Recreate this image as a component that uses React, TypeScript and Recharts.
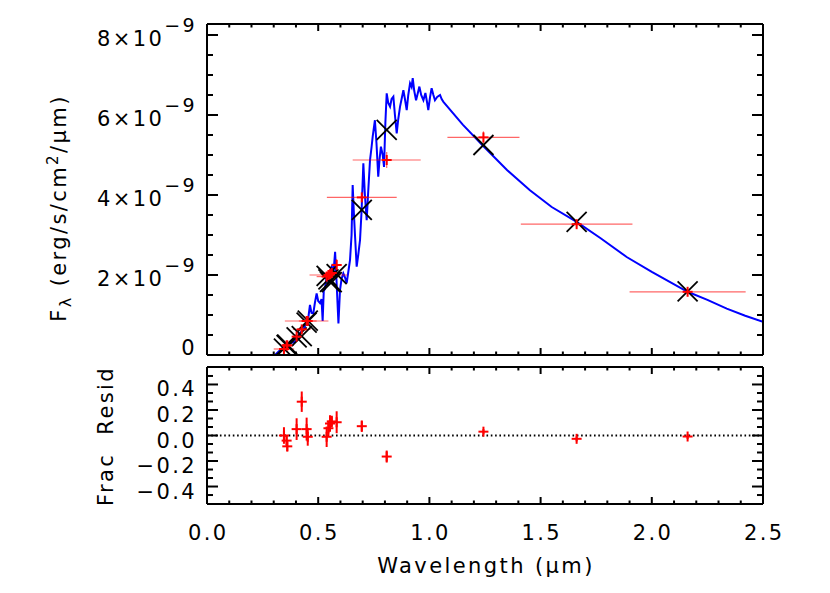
import React from "react";
import { ComposedChart, Line, Scatter, XAxis, YAxis, ErrorBar, ReferenceLine } from "recharts";

// wavelength (um) vs flux (1e-9 erg/s/cm2/um)
const spectrum: [number, number][] = [
  [0.118, 0], [0.2, 0], [0.306, 0], [0.328, 0.12], [0.345, 0.2], [0.358, 0.25], [0.375, 0.3],
  [0.396, 0.33], [0.408, 0.45], [0.418, 0.55], [0.43, 0.62], [0.448, 0.79], [0.456, 0.95],
  [0.463, 1.25], [0.47, 1.05], [0.478, 1.04], [0.485, 1.3], [0.493, 1.54], [0.5, 1.35],
  [0.508, 1.3], [0.515, 1.4], [0.52, 0.85], [0.525, 1.6], [0.53, 1.65], [0.538, 1.96],
  [0.545, 1.85], [0.553, 2.1], [0.561, 2.21], [0.568, 2.0], [0.576, 2.58], [0.582, 1.9],
  [0.591, 0.79], [0.598, 1.62], [0.605, 1.9], [0.613, 2.04], [0.62, 1.95], [0.628, 1.8],
  [0.636, 2.1], [0.643, 2.37], [0.65, 3.0], [0.655, 4.25], [0.66, 3.6], [0.665, 3.04],
  [0.673, 2.21], [0.68, 2.5], [0.688, 2.87], [0.695, 3.6], [0.703, 4.79], [0.71, 4.0],
  [0.718, 3.37], [0.725, 4.1], [0.733, 4.87], [0.74, 5.2], [0.745, 5.46], [0.755, 5.87],
  [0.762, 5.3], [0.77, 4.46], [0.776, 4.9], [0.782, 5.21], [0.79, 5.0], [0.796, 4.7],
  [0.802, 5.8], [0.808, 6.54], [0.815, 6.3], [0.823, 6.21], [0.83, 6.4], [0.838, 6.46],
  [0.845, 6.0], [0.853, 5.54], [0.86, 5.9], [0.868, 6.21], [0.875, 6.4], [0.883, 6.62],
  [0.89, 6.4], [0.898, 6.12], [0.905, 6.5], [0.913, 6.79], [0.92, 6.7], [0.925, 6.92],
  [0.932, 6.6], [0.94, 6.37], [0.948, 6.55], [0.955, 6.71], [0.963, 6.5], [0.973, 6.37],
  [0.982, 6.55], [0.99, 6.3], [0.995, 6.12], [1.003, 6.45], [1.01, 6.67], [1.018, 6.5],
  [1.025, 6.37], [1.035, 6.45], [1.048, 6.5], [1.055, 6.4], [1.063, 6.33],
  [1.15, 5.76], [1.243, 5.22], [1.35, 4.62], [1.452, 4.12], [1.55, 3.7], [1.662, 3.33],
  [1.77, 2.92], [1.887, 2.45], [2.0, 2.08], [2.161, 1.58], [2.25, 1.38], [2.337, 1.16],
  [2.42, 0.98], [2.5, 0.83], [2.5, 0.05],
];

// photometry: wavelength, half band width, flux, flux error, model flux, frac resid, resid error
const bandX = [0.346, 0.358, 0.361, 0.403, 0.426, 0.448, 0.453, 0.538, 0.546, 0.553, 0.561, 0.583, 0.696, 0.808, 1.243, 1.662, 2.161];
const bandW = [0.046, 0.02, 0.03, 0.02, 0.04, 0.098, 0.04, 0.045, 0.085, 0.04, 0.045, 0.022, 0.157, 0.153, 0.162, 0.251, 0.261];
const obsFlux = [0.15, 0.24, 0.24, 0.46, 0.64, 0.85, 0.85, 1.96, 2.0, 2.02, 2.05, 2.25, 3.94, 4.875, 5.44, 3.27, 1.58];
const obsErr = [0.1, 0.08, 0.08, 0.1, 0.1, 0.12, 0.1, 0.12, 0.1, 0.1, 0.08, 0.15, 0.1, 0.2, 0.15, 0.08, 0.05];
const modelFlux = [0.16, 0.25, 0.26, 0.44, 0.47, 0.81, 0.86, 1.98, 1.89, 1.83, 1.82, 2.02, 3.63, 5.63, 5.25, 3.33, 1.59];
const resid = [0.0, -0.04, -0.085, 0.05, 0.265, 0.05, -0.01, -0.01, 0.057, 0.094, 0.11, 0.104, 0.073, -0.165, 0.03, -0.026, -0.008];
const residErr = [0.065, 0.04, 0.04, 0.085, 0.08, 0.09, 0.07, 0.08, 0.06, 0.065, 0.045, 0.086, 0.045, 0.047, 0.02, 0.02, 0.02];

const X_TICKS = [0, 0.1, 0.2, 0.3, 0.4, 0.5, 0.6, 0.7, 0.8, 0.9, 1, 1.1, 1.2, 1.3, 1.4, 1.5, 1.6, 1.7, 1.8, 1.9, 2, 2.1, 2.2, 2.3, 2.4, 2.5];
const X_MAJOR = [0, 0.5, 1, 1.5, 2, 2.5];
const YF_TICKS = [0, 0.5, 1, 1.5, 2, 2.5, 3, 3.5, 4, 4.5, 5, 5.5, 6, 6.5, 7, 7.5, 8];
const YF_MAJOR = [0, 2, 4, 6, 8];
const YR_TICKS = [-0.4667, -0.4, -0.3333, -0.2667, -0.2, -0.1333, -0.0667, 0, 0.0667, 0.1333, 0.2, 0.2667, 0.3333, 0.4, 0.4667];
const YR_MAJOR = [-0.4, -0.2, 0, 0.2, 0.4];

const specData = spectrum.map(([x, y]) => ({ x, y }));
const obsData = bandX.map((x, i) => ({ x, y: obsFlux[i], ex: bandW[i], ey: obsErr[i] }));
const modelData = bandX.map((x, i) => ({ x, y: modelFlux[i] }));
const residData = bandX.map((x, i) => ({ x, y: resid[i], ey: residErr[i] }));

const FONT = "'DejaVu Sans', sans-serif";
const FS = 21;
const LS = 2.4;
const txt = { fontFamily: FONT, fontSize: FS, fill: "#000", letterSpacing: LS };
const near = (v: number, list: number[]) => list.some((m) => Math.abs(m - v) < 1e-6);

const xTick = (dir: number, labels: boolean) => (p: any) => {
  const major = near(p.payload.value, X_MAJOR);
  return (
    <g>
      <line x1={p.x} x2={p.x} y1={p.y} y2={p.y + dir * (major ? 7 : 3.5)} stroke="#000" strokeWidth={2} />
      {labels && major ? (
        <text x={p.x + LS / 2} y={p.y + 36} textAnchor="middle" {...txt}>
          {p.payload.value.toFixed(1)}
        </text>
      ) : null}
    </g>
  );
};

const yTick = (dir: number, majors: number[], label?: (v: number, x: number, y: number) => React.ReactNode) => (p: any) => {
  const major = near(p.payload.value, majors);
  return (
    <g>
      <line x1={p.x} x2={p.x + dir * (major ? 11 : 6)} y1={p.y} y2={p.y} stroke="#000" strokeWidth={2} />
      {label && major ? label(p.payload.value, p.x, p.y) : null}
    </g>
  );
};

const fluxLabel = (v: number, x: number, y: number) =>
  v === 0 ? (
    <text x={x - 10} y={y} textAnchor="end" {...txt}>0</text>
  ) : (
    <text x={x - 10} y={y + 11} textAnchor="end" {...txt}>
      {`${v}×10`}
      <tspan dy={-14} fontSize={19}>−9</tspan>
    </text>
  );

const residLabel = (v: number, x: number, y: number) => (
  <text x={x - 10} y={y + 12} textAnchor="end" {...txt}>
    {(v < 0 ? "−" : "") + Math.abs(v).toFixed(1)}
  </text>
);

const XMark = (p: any) => (
  <g stroke="#000" strokeWidth={1.8}>
    <line x1={p.cx - 10} y1={p.cy - 10} x2={p.cx + 10} y2={p.cy + 10} />
    <line x1={p.cx - 10} y1={p.cy + 10} x2={p.cx + 10} y2={p.cy - 10} />
  </g>
);

const Plus = (p: any) => (
  <g stroke="#ff0000" strokeWidth={2}>
    <line x1={p.cx - 5} y1={p.cy} x2={p.cx + 5} y2={p.cy} />
    <line x1={p.cx} y1={p.cy - 5} x2={p.cx} y2={p.cy + 5} />
  </g>
);

const axisLine = { stroke: "#000", strokeWidth: 2 };

function Frame({ yDomain, yTicks, yMajor, yLabel, xLabels }: any) {
  return (
    <>
      <XAxis xAxisId="b" dataKey="x" type="number" domain={[0, 2.5]} allowDataOverflow ticks={X_TICKS} interval={0}
        height={1} tickSize={0} tickMargin={0} tickLine={false} axisLine={axisLine} tick={xTick(-1, xLabels)} />
      <XAxis xAxisId="t" orientation="top" dataKey="x" type="number" domain={[0, 2.5]} allowDataOverflow ticks={X_TICKS} interval={0}
        height={1} tickSize={0} tickMargin={0} tickLine={false} axisLine={axisLine} tick={xTick(1, false)} />
      <YAxis yAxisId="l" dataKey="y" type="number" domain={yDomain} allowDataOverflow ticks={yTicks} interval={0}
        width={1} tickSize={0} tickMargin={0} tickLine={false} axisLine={axisLine} tick={yTick(1, yMajor, yLabel)} />
      <YAxis yAxisId="r" orientation="right" dataKey="y" type="number" domain={yDomain} allowDataOverflow ticks={yTicks} interval={0}
        width={1} tickSize={0} tickMargin={0} tickLine={false} axisLine={axisLine} tick={yTick(-1, yMajor)} />
    </>
  );
}

export default function App() {
  const fluxAxes = Frame({ yDomain: [0, 8.275], yTicks: YF_TICKS, yMajor: YF_MAJOR, yLabel: fluxLabel, xLabels: false });
  const residAxes = Frame({ yDomain: [-0.537, 0.537], yTicks: YR_TICKS, yMajor: YR_MAJOR, yLabel: residLabel, xLabels: true });
  return (
    <div style={{ position: "absolute", left: 0, top: 0, width: 830, height: 593, background: "#fff" }}>
      <div style={{ position: "absolute", left: 0, top: 0 }}>
        <ComposedChart width={830} height={593} margin={{ top: 23, right: 66, bottom: 237, left: 206 }}>
          {fluxAxes.props.children}
          <Line xAxisId="b" yAxisId="l" data={specData} dataKey="y" type="linear" stroke="#0000ff" strokeWidth={2}
            dot={false} isAnimationActive={false} />
          <Scatter xAxisId="b" yAxisId="l" data={modelData} dataKey="y" shape={XMark} isAnimationActive={false} />
          <Scatter xAxisId="b" yAxisId="l" data={obsData} dataKey="y" shape={Plus} isAnimationActive={false}>
            <ErrorBar dataKey="ex" direction="x" width={0} stroke="#ff0000" strokeOpacity={0.6} strokeWidth={1.2} />
            <ErrorBar dataKey="ey" direction="y" width={0} stroke="#ff0000" strokeOpacity={0.6} strokeWidth={1.2} />
          </Scatter>
        </ComposedChart>
      </div>
      <div style={{ position: "absolute", left: 0, top: 0 }}>
        <ComposedChart width={830} height={593} margin={{ top: 366, right: 66, bottom: 88, left: 206 }}>
          {residAxes.props.children}
          <ReferenceLine xAxisId="b" yAxisId="l" y={0} stroke="#000" strokeWidth={2} strokeDasharray="1.6 2.7" />
          <Scatter xAxisId="b" yAxisId="l" data={residData} dataKey="y" shape={Plus} isAnimationActive={false}>
            <ErrorBar dataKey="ey" direction="y" width={0} stroke="#ff0000" strokeWidth={2} />
          </Scatter>
        </ComposedChart>
      </div>
      <svg width={830} height={593} style={{ position: "absolute", left: 0, top: 0, pointerEvents: "none" }}>
        <text x={486} y={573} textAnchor="middle" {...txt}>
          Wavelength (µm)
        </text>
        <text transform="rotate(-90)" x={-208} y={66} textAnchor="middle" {...txt}>
          F<tspan dy={5} fontSize={16}>λ</tspan>
          <tspan dy={-5}> (erg/s/cm</tspan>
          <tspan dy={-8} fontSize={15}>2</tspan>
          <tspan dy={8}>/µm)</tspan>
        </text>
        <text transform="rotate(-90)" x={-436} y={113} textAnchor="middle" {...txt} style={{ whiteSpace: "pre" }}>
          {"Frac  Resid"}
        </text>
      </svg>
    </div>
  );
}
